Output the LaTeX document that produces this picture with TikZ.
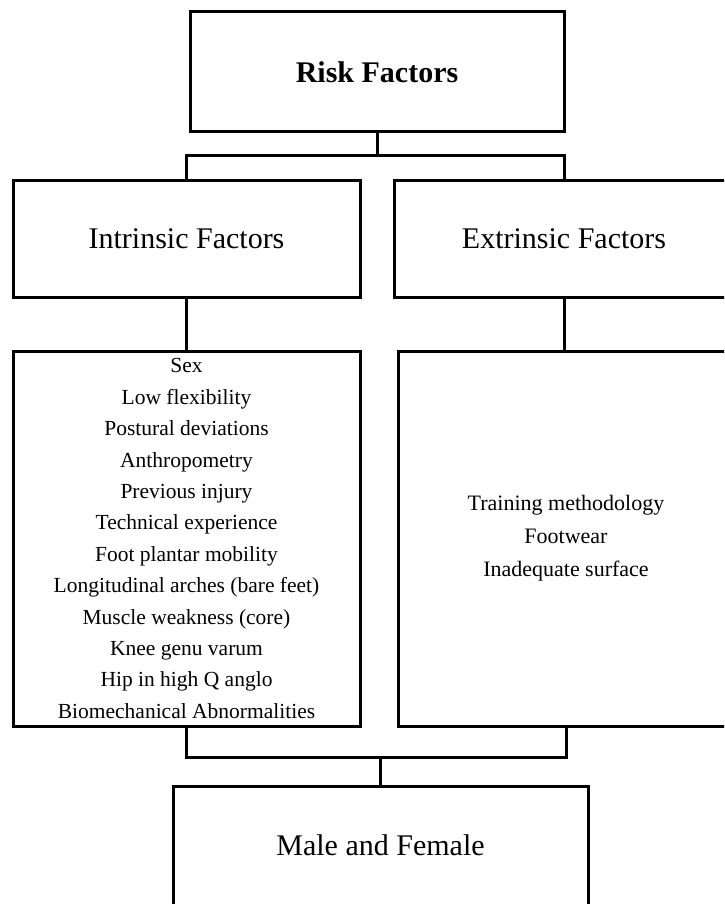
\documentclass[tikz,border=0pt]{standalone}
\usepackage{fontspec}
\setmainfont{Liberation Serif}
\begin{document}
\begin{tikzpicture}[x=1pt,y=-1pt,
    box/.style={draw,line width=3pt,inner sep=0pt,align=center},
    link/.style={line width=3pt}]
  \useasboundingbox (0,0) rectangle (724,904);
  \clip (0,0) rectangle (724,904);
  % boxes
  \node[box,minimum width=374pt,minimum height=120pt,font=\fontsize{30}{36}\selectfont\bfseries] (risk) at (377,72) {Risk Factors};
  \node[box,minimum width=347pt,minimum height=116pt,font=\fontsize{30}{36}\selectfont] (intr) at (186.5,239) {Intrinsic Factors};
  \node[box,minimum width=340pt,minimum height=116pt,font=\fontsize{30}{36}\selectfont] (extr) at (564,239) {Extrinsic Factors};
  \node[box,minimum width=347pt,minimum height=375pt,font=\fontsize{21.5}{31.4}\selectfont] (ilist) at (186.5,538.5)
    {Sex\\ Low flexibility\\ Postural deviations\\ Anthropometry\\ Previous injury\\ Technical experience\\
     Foot plantar mobility\\ Longitudinal arches (bare feet)\\ Muscle weakness (core)\\ Knee genu varum\\
     Hip in high Q anglo\\ Biomechanical Abnormalities};
  \node[box,minimum width=336pt,minimum height=375pt,font=\fontsize{22}{33}\selectfont] (elist) at (566,538.5)
    {Training methodology\\ Footwear\\ Inadequate surface};
  \node[box,minimum width=415pt,minimum height=119pt,font=\fontsize{30}{36}\selectfont] (mf) at (380.5,845.5) {Male and Female};
  % connectors
  \coordinate (topj) at (377,156);
  \coordinate (botj) at (380.5,757);
  \draw[link] (risk.south) -- (topj);
  \draw[link] (intr.north) |- (topj) -| (extr.north);
  \draw[link] (intr.south) -- (intr.south |- ilist.north);
  \draw[link] (extr.south) -- (extr.south |- elist.north);
  \draw[link] (ilist.south) |- (botj) -| (elist.south);
  \draw[link] (botj) -- (mf.north);
\end{tikzpicture}
\end{document}
